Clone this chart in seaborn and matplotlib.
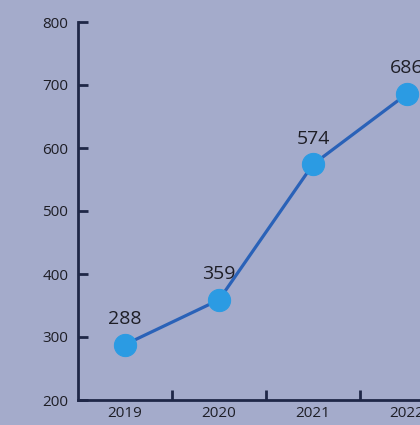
import matplotlib
matplotlib.use("Agg")
import matplotlib.pyplot as plt
import seaborn as sns
import pandas as pd

years = ["2019", "2020", "2021", "2022"]
values = [288, 359, 574, 686]
y_ticks = [200, 300, 400, 500, 600, 700, 800]

bg = "#a4abcb"
axis_col = "#1f2747"
line_col = "#2a62b8"
marker_col = "#2b9be3"
text_col = "#1e1e26"

sns.set_theme(style="white")
plt.rcParams["font.family"] = ["Open Sans", "DejaVu Sans"]

df = pd.DataFrame({"pos": list(range(len(years))), "value": values})

fig = plt.figure(figsize=(4.2, 4.25), dpi=100, facecolor=bg)
ax = fig.add_axes([78 / 420, 25 / 425, (420 - 78) / 420, (400 - 22) / 425])
ax.set_facecolor(bg)

sns.lineplot(data=df, x="pos", y="value", ax=ax, color=line_col, linewidth=2.3,
             marker="o", markersize=16, markerfacecolor=marker_col,
             markeredgecolor=marker_col, zorder=3)

for x, v in zip(df["pos"], df["value"]):
    ax.annotate(str(v), (x, v), xytext=(0, 12), textcoords="offset points",
                ha="center", va="bottom", fontsize=14, color=text_col,
                annotation_clip=False)

ax.set_xlim(-0.5, (420 - 125) / 94)
ax.set_ylim(200, 800)
ax.set_yticks(y_ticks)
ax.set_yticklabels([str(t) for t in y_ticks])
ax.set_xticks(range(len(years)))
ax.set_xticklabels(years)
ax.set_xticks([0.5, 1.5, 2.5], minor=True)

ax.tick_params(axis="y", which="major", left=True, direction="in", length=7,
               width=2, color=axis_col, labelsize=11, labelcolor=text_col, pad=7)
ax.tick_params(axis="x", which="major", length=0, labelsize=11,
               labelcolor=text_col, pad=4)
ax.tick_params(axis="x", which="minor", bottom=True, direction="in", length=7,
               width=2, color=axis_col)

for side in ["top", "right"]:
    ax.spines[side].set_visible(False)
for side in ["left", "bottom"]:
    ax.spines[side].set_color(axis_col)
    ax.spines[side].set_linewidth(2)

ax.set_xlabel("")
ax.set_ylabel("")

fig.savefig("out.png", dpi=100, facecolor=bg)
